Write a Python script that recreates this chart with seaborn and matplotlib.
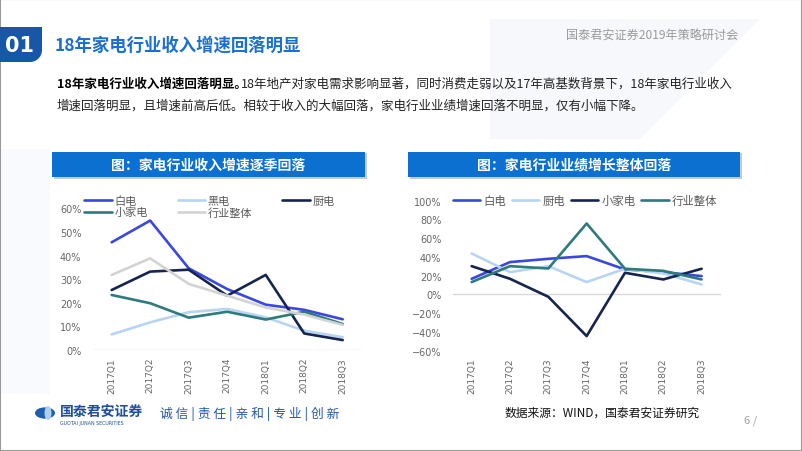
import matplotlib
matplotlib.use('Agg')
import matplotlib.pyplot as plt
import matplotlib.patches as mpatches
import numpy as np
import pandas as pd
import seaborn as sns
from matplotlib.ticker import PercentFormatter

quarters = ['2017Q1', '2017Q2', '2017Q3', '2017Q4', '2018Q1', '2018Q2', '2018Q3']

# left chart: revenue growth (%)
rev_bai = [45.6, 54.8, 34.6, 25.8, 19.2, 17.0, 13.0]
rev_hei = [6.6, 11.7, 16.0, 17.4, 13.8, 8.2, 5.4]
rev_chu = [25.4, 33.2, 34.0, 23.0, 31.8, 7.0, 4.2]
rev_xiao = [23.3, 19.8, 13.7, 16.2, 12.9, 16.2, 11.0]
rev_all = [31.8, 38.8, 28.0, 23.0, 18.0, 15.0, 10.6]

# right chart: profit growth (%)
pro_bai = [16.7, 34.5, 38.0, 40.9, 26.7, 23.8, 19.6]
pro_chu = [43.7, 23.8, 30.2, 13.2, 27.4, 22.4, 10.7]
pro_xiao = [30.2, 16.7, -2.5, -44.4, 23.1, 16.0, 27.4]
pro_all = [13.2, 30.2, 27.7, 75.7, 27.4, 25.2, 16.0]

BLUE = '#3a47e0'
LIGHT = '#b7d5f2'
NAVY = '#15254f'
TEAL = '#2e7b7b'
GRAY = '#d3d3d3'

sns.set_style('white')
plt.rcParams['font.family'] = ['Noto Sans CJK SC', 'DejaVu Sans']

fig = plt.figure(figsize=(8.02, 4.52), dpi=100)
W, H = 802, 452


def fx(x):
    return x / W


def fy(y):
    return 1 - y / H


# slide frame
fig.patches.append(mpatches.Rectangle((0, 0), 1, 1, transform=fig.transFigure,
                                      fill=False, ec='#9a9a9a', lw=1.5))
# faint background shapes
fig.patches.append(mpatches.Polygon([(fx(490), fy(20)), (fx(760), fy(20)), (fx(640), fy(140)), (fx(490), fy(140))],
                                    closed=True, transform=fig.transFigure, fc='#f6f8fb', ec='none', zorder=0))
fig.patches.append(mpatches.Polygon([(fx(0), fy(150)), (fx(50), fy(150)), (fx(50), fy(395)), (fx(0), fy(395))],
                                    closed=True, transform=fig.transFigure, fc='#f8fafd', ec='none', zorder=0))

# "01" box
t = np.linspace(0, np.pi / 2, 12)
pts = [(fx(0), fy(28)), (fx(42), fy(28)), (fx(42), fy(51))] + \
      [(fx(30 + 12 * np.cos(a)), fy(51 + 12 * np.sin(a))) for a in t] + [(fx(0), fy(63))]
fig.patches.append(mpatches.Polygon(pts, closed=True, transform=fig.transFigure,
                                    fc='#1657a8', ec='none'))
fig.text(fx(20), fy(46), '01', color='white', fontsize=15, fontweight='bold',
         ha='center', va='center', family='DejaVu Sans')
fig.text(fx(55), fy(46), '18年家电行业收入增速回落明显', color='#1a6fd0', fontsize=12.5,
         fontweight='bold', ha='left', va='center')
fig.text(fx(738), fy(36), '国泰君安证券2019年策略研讨会', color='#9a9a9a', fontsize=8.7,
         ha='right', va='center')

# body text
fig.text(fx(57), fy(84), '18年家电行业收入增速回落明显。', color='black', fontsize=9,
         fontweight='bold', ha='left', va='center')
fig.text(fx(241), fy(84), '18年地产对家电需求影响显著，同时消费走弱以及17年高基数背景下，18年家电行业收入',
         color='#222222', fontsize=9, ha='left', va='center')
fig.text(fx(57), fy(106), '增速回落明显，且增速前高后低。相较于收入的大幅回落，家电行业业绩增速回落不明显，仅有小幅下降。',
         color='#222222', fontsize=9, ha='left', va='center')

# chart title bars
for x0, x1, title in [(52, 365, '图：家电行业收入增速逐季回落'),
                      (408, 740, '图：家电行业业绩增长整体回落')]:
    fig.patches.append(mpatches.Rectangle((fx(x0 + 2), fy(180)), fx(x1 - x0), fy(154) - fy(180),
                                          transform=fig.transFigure, fc='#c9c9c9', ec='none'))
    fig.patches.append(mpatches.Rectangle((fx(x0), fy(178)), fx(x1 - x0), fy(153) - fy(178),
                                          transform=fig.transFigure, fc='#0b70cf', ec='none'))
    fig.text(fx((x0 + x1) / 2), fy(165.5), title, color='white', fontsize=10,
             fontweight='bold', ha='center', va='center')

df1 = pd.DataFrame({'quarter': quarters, '白电': rev_bai, '黑电': rev_hei, '厨电': rev_chu,
                    '小家电': rev_xiao, '行业整体': rev_all})
df2 = pd.DataFrame({'quarter': quarters, '白电': pro_bai, '厨电': pro_chu,
                    '小家电': pro_xiao, '行业整体': pro_all})

ax1 = fig.add_axes([fx(92.4), fy(351), fx(362 - 92.4), fy(209.3) - fy(351)])
ax2 = fig.add_axes([fx(452.5), fy(351.7), fx(720.8 - 452.5), fy(201.7) - fy(351.7)])

lw = 1.9
for name, col in [('白电', BLUE), ('黑电', LIGHT), ('厨电', NAVY), ('小家电', TEAL), ('行业整体', GRAY)]:
    sns.lineplot(data=df1, x='quarter', y=name, ax=ax1, color=col, lw=lw, label=name, sort=False)
for name, col in [('白电', BLUE), ('厨电', LIGHT), ('小家电', NAVY), ('行业整体', TEAL)]:
    sns.lineplot(data=df2, x='quarter', y=name, ax=ax2, color=col, lw=lw, label=name, sort=False)

for ax in (ax1, ax2):
    ax.set_xlim(-0.5, 6.5)
    ax.set_xlabel('')
    ax.set_ylabel('')
    for s in ax.spines.values():
        s.set_visible(False)
    ax.axhline(0, color='#d9d9d9', lw=1, zorder=0)
    ax.yaxis.set_major_formatter(PercentFormatter(decimals=0))
    ax.tick_params(axis='y', labelsize=7, colors='#666666', length=0, pad=8)
    ax.tick_params(axis='x', labelsize=6.5, colors='#666666', length=0, rotation=90, pad=5)
    ax.set_facecolor('none')
    for lab in ax.get_xticklabels() + ax.get_yticklabels():
        lab.set_family('DejaVu Sans')

ax1.set_ylim(0, 60)
ax1.set_yticks(np.arange(0, 61, 10))
ax2.set_ylim(-60, 100)
ax2.set_yticks(np.arange(-60, 101, 20))

h, l = ax1.get_legend_handles_labels()
order = [0, 3, 1, 4, 2]
ax1.legend([h[i] for i in order], [l[i] for i in order], ncol=3, frameon=False,
           loc='lower left', bbox_to_anchor=(-0.03, 0.935),
           fontsize=8, labelcolor='#595959', handlelength=2.5, handletextpad=0.2,
           columnspacing=2.7, labelspacing=0.05, borderaxespad=0, borderpad=0)

ax2.legend(ncol=4, frameon=False, loc='center left', bbox_to_anchor=(0.0, 1.0),
           fontsize=8.2, labelcolor='#595959', handlelength=2.4, handletextpad=0.3,
           columnspacing=0.5, borderaxespad=0, borderpad=0)

# footer
fig.patches.append(mpatches.Circle((fx(45), fy(414)), 0.0125, transform=fig.transFigure,
                                   fc='#1d5fae', ec='none'))
fig.patches.append(mpatches.Ellipse((fx(48), fy(414)), fx(7), fy(407) - fy(421), transform=fig.transFigure,
                                    fc='#aed0ee', ec='none'))
fig.text(fx(60), fy(412), '国泰君安证券', color='#1d4f9a', fontsize=10, fontweight='bold',
         ha='left', va='center')
fig.text(fx(60), fy(424), 'GUOTAI JUNAN SECURITIES', color='#1d4f9a', fontsize=3.4,
         ha='left', va='center', family='DejaVu Sans')
fig.text(fx(160), fy(414), '诚 信 | 责 任 | 亲 和 | 专 业 | 创 新', color='#2457a5', fontsize=9.2,
         ha='left', va='center')
fig.text(fx(505), fy(413), '数据来源：WIND，国泰君安证券研究', color='#111111', fontsize=8.5,
         ha='left', va='center')
fig.text(fx(744), fy(421), '6 /', color='#a0a0a0', fontsize=8, ha='left', va='center')

fig.savefig('out.png', dpi=100)
